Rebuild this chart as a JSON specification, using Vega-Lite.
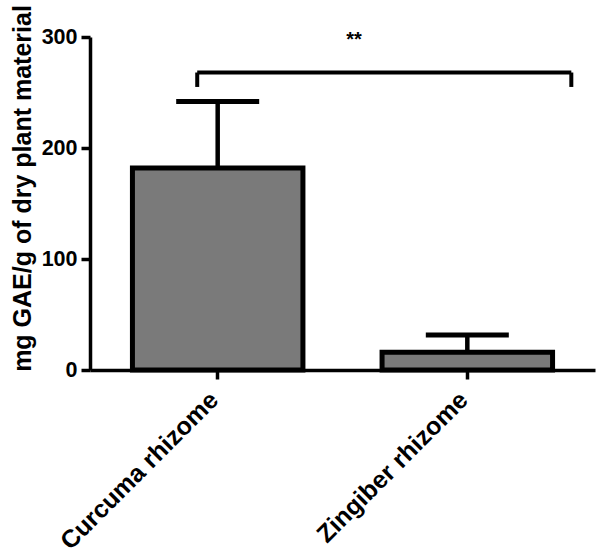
{
  "$schema": "https://vega.github.io/schema/vega-lite/v6.json",
  "width": 505,
  "height": 333,
  "autosize": "none",
  "padding": {"left": 90, "top": 37, "right": 5, "bottom": 184},
  "background": "white",
  "config": {
    "view": {"stroke": null},
    "font": "Liberation Sans",
    "axis": {
      "domainColor": "black",
      "domainWidth": 3.5,
      "tickColor": "black",
      "tickWidth": 3.5,
      "tickSize": 9,
      "labelColor": "black",
      "labelFont": "Liberation Sans",
      "labelFontWeight": "bold",
      "labelFontSize": 21.5,
      "labelLimit": 0,
      "titleColor": "black",
      "titleFont": "Liberation Sans",
      "titleFontWeight": "bold",
      "grid": false
    }
  },
  "data": {
    "values": [
      {"sample": "Curcuma rhizome", "mean": 182, "upper": 242},
      {"sample": "Zingiber rhizome", "mean": 16, "upper": 31.5}
    ]
  },
  "layer": [
    {
      "mark": {"type": "bar", "fill": "#7a7a7a", "stroke": "black", "strokeWidth": 5},
      "encoding": {
        "x": {
          "field": "sample",
          "type": "nominal",
          "sort": null,
          "scale": {"paddingInner": 0.317, "paddingOuter": 0.17},
          "axis": {"title": null, "labelAngle": -45, "labelFontSize": 25, "labelPadding": 8, "labelOffset": -12, "labelLimit": 0}
        },
        "y": {
          "field": "mean",
          "type": "quantitative",
          "scale": {"domain": [0, 300]},
          "axis": {
            "values": [0, 100, 200, 300],
            "title": "mg GAE/g of dry plant material",
            "titleFontSize": 25,
            "titleAngle": -90,
            "titleBaseline": "middle",
            "titleX": -68,
            "titleY": 151,
            "labelPadding": 4
          }
        }
      }
    },
    {
      "mark": {"type": "rule", "color": "black", "strokeWidth": 4.5},
      "encoding": {
        "x": {"field": "sample", "type": "nominal", "sort": null},
        "y": {"field": "mean", "type": "quantitative"},
        "y2": {"field": "upper"}
      }
    },
    {
      "mark": {"type": "tick", "color": "black", "opacity": 1, "size": 83, "thickness": 5},
      "encoding": {
        "x": {"field": "sample", "type": "nominal", "sort": null},
        "y": {"field": "upper", "type": "quantitative"}
      }
    },
    {
      "data": {"values": [{"from": "Curcuma rhizome", "to": "Zingiber rhizome", "top": 268, "bottom": 255, "label": "**", "labelY": 297}]},
      "layer": [
        {
          "mark": {"type": "rule", "color": "black", "strokeWidth": 4},
          "encoding": {
            "x": {"field": "from", "type": "nominal", "bandPosition": 0.38},
            "x2": {"field": "to", "bandPosition": 1.11},
            "y": {"field": "top", "type": "quantitative"}
          }
        },
        {
          "mark": {"type": "rule", "color": "black", "strokeWidth": 4},
          "encoding": {
            "x": {"field": "from", "type": "nominal", "bandPosition": 0.38},
            "y": {"field": "bottom", "type": "quantitative"},
            "y2": {"field": "top"}
          }
        },
        {
          "mark": {"type": "rule", "color": "black", "strokeWidth": 4},
          "encoding": {
            "x": {"field": "to", "type": "nominal", "bandPosition": 1.11},
            "y": {"field": "bottom", "type": "quantitative"},
            "y2": {"field": "top"}
          }
        },
        {
          "mark": {"type": "text", "color": "black", "fontSize": 20, "fontWeight": "bold", "baseline": "middle"},
          "encoding": {
            "x": {"field": "from", "type": "nominal", "bandPosition": 1.3},
            "y": {"field": "labelY", "type": "quantitative"},
            "text": {"field": "label"}
          }
        }
      ]
    }
  ]
}
